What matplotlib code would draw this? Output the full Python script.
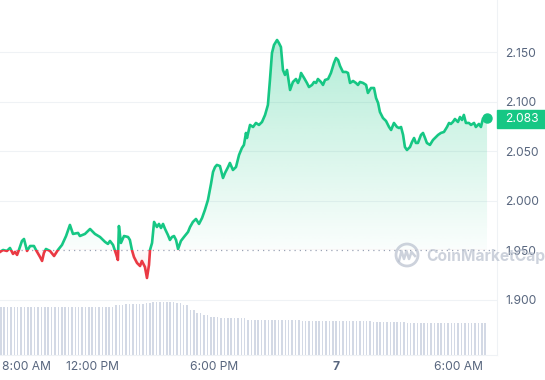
import numpy as np
import matplotlib
matplotlib.use("Agg")
import matplotlib.pyplot as plt
from matplotlib.patches import Rectangle, Polygon, Circle
from matplotlib.lines import Line2D
from matplotlib import transforms

plt.rcParams['font.family'] = ['Inter', 'DejaVu Sans']

# hours relative to midnight of the 7th, price in USD
hours = [
    -16.53, -16.38, -16.19, -16.04, -15.89, -15.79, -15.69, -15.60, -15.45, -15.35,
    -15.20, -15.05, -14.86, -14.76, -14.56, -14.46, -14.37, -14.27, -14.07, -13.87,
    -13.68, -13.48, -13.28, -13.09, -12.94, -12.69, -12.60, -12.35, -12.10, -11.86,
    -11.61, -11.36, -11.22, -11.12, -10.97, -10.82, -10.73, -10.68, -10.58, -10.43,
    -10.23, -10.14, -10.04, -9.94, -9.79, -9.64, -9.55, -9.40, -9.30, -9.20,
    -9.15, -9.05, -8.95, -8.81, -8.71, -8.61, -8.51, -8.41, -8.27, -8.17,
    -8.07, -7.97, -7.87, -7.77, -7.63, -7.48, -7.28, -7.18, -7.04, -6.89,
    -6.74, -6.59, -6.45, -6.30, -6.15, -6.05, -5.95, -5.86, -5.71, -5.56,
    -5.46, -5.31, -5.22, -5.07, -4.92, -4.77, -4.63, -4.53, -4.43, -4.38,
    -4.23, -4.08, -3.94, -3.79, -3.64, -3.49, -3.35, -3.25, -3.15, -3.05,
    -2.90, -2.81, -2.71, -2.61, -2.51, -2.41, -2.26, -2.12, -1.97, -1.87,
    -1.77, -1.72, -1.57, -1.43, -1.33, -1.18, -1.08, -0.98, -0.89, -0.74,
    -0.64, -0.54, -0.39, -0.25, -0.10, 0.00, 0.10, 0.20, 0.34, 0.49,
    0.59, 0.69, 0.84, 0.98, 1.08, 1.18, 1.33, 1.48, 1.57, 1.72,
    1.87, 1.97, 2.07, 2.16, 2.31, 2.46, 2.61, 2.71, 2.85, 3.00,
    3.10, 3.20, 3.30, 3.39, 3.49, 3.64, 3.74, 3.84, 3.93, 4.03,
    4.18, 4.28, 4.38, 4.47, 4.62, 4.77, 4.92, 5.02, 5.16, 5.31,
    5.46, 5.56, 5.65, 5.75, 5.85, 6.00, 6.10, 6.20, 6.29, 6.39,
    6.54, 6.64, 6.79, 6.88, 7.03, 7.13, 7.23, 7.33, 7.43,
]
prices = [
    1.9485, 1.9505, 1.9495, 1.9525, 1.9465, 1.9485, 1.9455, 1.9505, 1.9596, 1.9616,
    1.9495, 1.9545, 1.9545, 1.9505, 1.9434, 1.9394, 1.9475, 1.9515, 1.9495, 1.9444,
    1.9505, 1.9556, 1.9646, 1.9758, 1.9667, 1.9677, 1.9646, 1.9667, 1.9717, 1.9667,
    1.9636, 1.9586, 1.9566, 1.9596, 1.9556, 1.9465, 1.9404, 1.9747, 1.9576, 1.9646,
    1.9636, 1.9606, 1.9505, 1.9434, 1.9374, 1.9343, 1.9394, 1.9333, 1.9222, 1.9354,
    1.9505, 1.9576, 1.9788, 1.9737, 1.9768, 1.9727, 1.9768, 1.9717, 1.9657, 1.9606,
    1.9636, 1.9646, 1.9606, 1.9515, 1.9596, 1.9636, 1.9687, 1.9737, 1.9788, 1.9818,
    1.9768, 1.9828, 1.9909, 2.0010, 2.0172, 2.0293, 2.0343, 2.0364, 2.0353, 2.0232,
    2.0283, 2.0343, 2.0384, 2.0313, 2.0343, 2.0465, 2.0535, 2.0566, 2.0687, 2.0636,
    2.0768, 2.0747, 2.0788, 2.0768, 2.0798, 2.0869, 2.0970, 2.1222, 2.1495, 2.1576,
    2.1626, 2.1596, 2.1555, 2.1323, 2.1273, 2.1323, 2.1121, 2.1202, 2.1232, 2.1192,
    2.1242, 2.1293, 2.1242, 2.1192, 2.1151, 2.1172, 2.1202, 2.1192, 2.1232, 2.1202,
    2.1172, 2.1222, 2.1232, 2.1293, 2.1394, 2.1444, 2.1424, 2.1363, 2.1303, 2.1303,
    2.1293, 2.1192, 2.1212, 2.1192, 2.1172, 2.1202, 2.1192, 2.1172, 2.1091, 2.1141,
    2.1141, 2.1040, 2.0990, 2.0899, 2.0838, 2.0808, 2.0747, 2.0717, 2.0788, 2.0747,
    2.0737, 2.0747, 2.0667, 2.0545, 2.0515, 2.0545, 2.0596, 2.0636, 2.0586, 2.0586,
    2.0667, 2.0687, 2.0636, 2.0586, 2.0566, 2.0616, 2.0646, 2.0667, 2.0687, 2.0697,
    2.0747, 2.0788, 2.0778, 2.0798, 2.0828, 2.0798, 2.0848, 2.0818, 2.0869, 2.0788,
    2.0788, 2.0768, 2.0788, 2.0747, 2.0778, 2.0747, 2.0833, 2.0838, 2.0833,
]
base_price = 1.9505
last_price = 2.083

# 24h volume (millions), one bar every 10 minutes
volume = [
    485, 485, 485, 485, 485, 485, 485, 485, 485, 485, 485, 485,
    485, 485, 485, 485, 485, 485, 485, 485, 485, 485, 485, 485,
    485, 485, 485, 485, 485, 485, 485, 485, 485, 485, 500, 500,
    500, 515, 515, 515, 515, 515, 515, 520, 520, 535, 535, 535,
    535, 535, 535, 535, 525, 525, 500, 500, 450, 450, 420, 420,
    400, 400, 385, 385, 385, 375, 375, 375, 375, 375, 375, 375,
    375, 350, 350, 350, 350, 350, 350, 350, 350, 350, 350, 350,
    350, 350, 350, 350, 350, 345, 345, 345, 345, 345, 345, 345,
    345, 345, 345, 345, 345, 345, 340, 340, 340, 340, 340, 340,
    340, 340, 330, 330, 330, 330, 330, 330, 330, 330, 330, 330,
    320, 320, 320, 320, 320, 320, 320, 320, 320, 320, 320, 320,
    320, 320, 320, 320, 320, 320, 320, 320, 320, 320, 320, 320,
]
vol_hours = hours[0] + np.arange(len(volume)) / 6

x_ticks = [-16, -12, -6, 0, 6]
x_labels = ['8:00 AM', '12:00 PM', '6:00 PM', '7', '6:00 AM']
y_ticks = [1.90, 1.95, 2.00, 2.05, 2.10, 2.15]

green = '#16c784'
red = '#ea3943'
grey = '#58667e'
grid = '#eff2f5'

hours = np.array(hours)
prices = np.array(prices)
xmin, xmax = -16.53, 7.92
ymin, ymax = 1.8444, 2.2030

fig = plt.figure(figsize=(5.45, 3.8), dpi=100)
rect = [0, 25 / 380, 497 / 545, 355 / 380]

# volume bars in their own axes underneath
axv = fig.add_axes(rect)
axv.bar(vol_hours, volume, width=0.075, color='#d3d9e5', align='edge', zorder=1)
axv.set_xlim(xmin, xmax)
axv.set_ylim(0, 3550)
axv.axis('off')

ax = fig.add_axes(rect)
ax.set_facecolor('none')

for lvl in [1.90, 2.00, 2.05, 2.10, 2.15]:
    ax.axhline(lvl, color=grid, lw=0.8, zorder=0)
ax.axhline(base_price, color='#9aa3b5', lw=0.9, ls=(0, (1, 3.2)), zorder=1)

# gradient fill between line and baseline
verts = list(zip(hours, prices)) + [(hours[-1], base_price), (hours[0], base_price)]
clip = Polygon(verts, closed=True, transform=ax.transData)

g = np.zeros((256, 1, 4))
g[..., :3] = matplotlib.colors.to_rgb(green)
g[:, 0, 3] = np.linspace(0.02, 0.33, 256)
im = ax.imshow(g, extent=[xmin, xmax, base_price, 2.165], origin='lower',
               aspect='auto', interpolation='bilinear', zorder=1)
im.set_clip_path(clip)

r = np.zeros((256, 1, 4))
r[..., :3] = matplotlib.colors.to_rgb(red)
r[:, 0, 3] = np.linspace(0.12, 0.03, 256)
im2 = ax.imshow(r, extent=[xmin, xmax, 1.92, base_price], origin='lower',
                aspect='auto', interpolation='bilinear', zorder=1)
im2.set_clip_path(clip)

# line: green above the baseline, red below
up, = ax.plot(hours, prices, color=green, lw=1.9, solid_joinstyle='round', zorder=3)
up.set_clip_path(Rectangle((xmin - 5, base_price), 40, 1, transform=ax.transData))
dn, = ax.plot(hours, prices, color=red, lw=1.9, solid_joinstyle='round', zorder=3)
dn.set_clip_path(Rectangle((xmin - 5, base_price - 1), 40, 1, transform=ax.transData))
ax.plot(hours[-1], prices[-1], 'o', color=green, ms=6.5, zorder=4, clip_on=False)

ax.set_xlim(xmin, xmax)
ax.set_ylim(ymin, ymax)

ax.set_yticks(y_ticks)
ax.set_yticklabels(['%.3f' % v for v in y_ticks])
ax.yaxis.tick_right()
ax.tick_params(axis='y', length=0, pad=6, labelsize=8.7, labelcolor=grey)
ax.set_xticks([])

for s in ['top', 'left']:
    ax.spines[s].set_visible(False)
for s in ['right', 'bottom']:
    ax.spines[s].set_color(grid)
    ax.spines[s].set_linewidth(0.8)

# x labels as text so the first can be pushed inside the figure
xt = transforms.blended_transform_factory(ax.transData, ax.transAxes)
for h, lab in zip(x_ticks, x_labels):
    ha = 'center'
    xpos = h
    if lab == '8:00 AM':
        ha = 'left'
        xpos = h - 0.44
    ax.text(xpos, -0.034, lab, transform=xt, ha=ha, va='center', fontsize=8.7,
            color=grey, fontweight='bold' if lab == '7' else 'normal')

# last price tag
bt = transforms.blended_transform_factory(fig.transFigure, ax.transData)
ax.add_patch(Rectangle((497 / 545, last_price - 0.0091), 48 / 545, 0.0182,
                       transform=bt, color=green, clip_on=False, zorder=5))
ax.text(505 / 545, last_price, '%.3f' % last_price, transform=bt, color='white',
        fontsize=8.7, va='center', ha='left', zorder=6, clip_on=False)

# watermark (sits over the 1.950 label, as in the original)
wm = '#b8c0ce'
fig.add_artist(Circle((407, 125), 11, transform=transforms.IdentityTransform(),
                      fill=False, ec=wm, lw=2, alpha=0.7))
fig.add_artist(Line2D([399, 401.5, 404, 406.5, 409, 411.5, 415],
                      [119, 129, 121, 129, 121, 128, 124],
                      transform=transforms.IdentityTransform(), color=wm, lw=1.8, alpha=0.7))
fig.text(426 / 545, 1 - 256 / 380, 'CoinMarketCap', fontsize=11.2, fontweight='bold',
         color=wm, alpha=0.7, ha='left', va='center')

fig.savefig('out.png', dpi=100)
